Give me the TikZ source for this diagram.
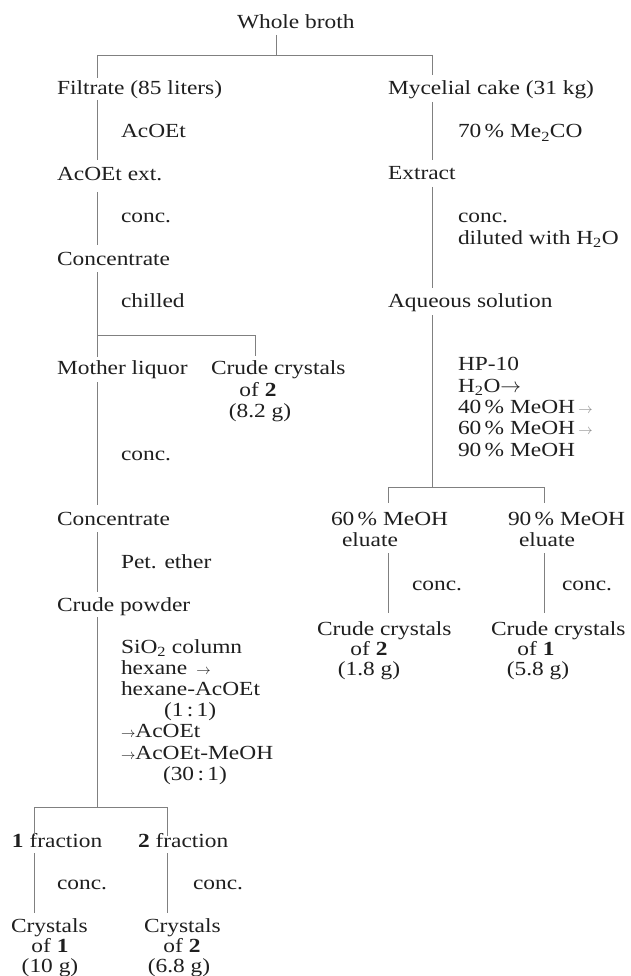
\documentclass[tikz,border=0pt]{standalone}
\usepackage{fontspec}
\setmainfont[FakeStretch=1.17]{Liberation Serif}
\begin{document}
\begin{tikzpicture}[x=1pt,y=-1pt,
  lbl/.style={inner sep=0pt, outer sep=0pt, anchor=base west,
    text height=14pt, text depth=4pt,
    font=\fontsize{20}{21}\selectfont, text=black!88},
  lblc/.style={lbl, anchor=base},
  link/.style={draw=black!50, line width=0.7pt}]
\fill[white] (0,0) rectangle (630,976);
\useasboundingbox (0,0) rectangle (630,976);
\newcommand{\sarr}{{\fontsize{15}{15}\selectfont$\rightarrow$}}
\newcommand{\garr}{{\color{black!45}\,$\scriptstyle\rightarrow$}}
% column and junction coordinates
\coordinate (cL) at (97,0);
\coordinate (cR) at (432,0);
\coordinate (cM) at (276,0);
\coordinate (cC) at (255,0);
\coordinate (cE1) at (388,0);
\coordinate (cE2) at (544,0);
\coordinate (cF1) at (34,0);
\coordinate (cF2) at (167,0);
\coordinate (jTop) at (276,55);
\coordinate (jChill) at (97,335);
\coordinate (jHP) at (432,487);
\coordinate (jSi) at (97,807);
% ---------- nodes ----------
\node[lbl] (broth) at (237,29) {Whole broth};
% left column
\node[lbl] (filtrate) at (57,95) {Filtrate (85 liters)};
\node[lbl] (r1) at (121,138) {AcOEt};
\node[lbl] (acoetext) at (57,181) {AcOEt ext.};
\node[lbl] (r2) at (121,223) {conc.};
\node[lbl] (concA) at (57,265) {Concentrate};
\node[lbl] (r3) at (121,307) {chilled};
\node[lbl] (mother) at (57,374) {Mother liquor};
\node[lbl] (crude2) at (211,374) {Crude crystals};
\node[lblc] (crude2b) at (258,396) {of \textbf{2}};
\node[lblc] (crude2c) at (260,417) {(8.2 g)};
\node[lbl] (r4) at (121,460) {conc.};
\node[lbl] (concB) at (57,525) {Concentrate};
\node[lbl] (r5) at (121,568) {Pet. ether};
\node[lbl] (powder) at (57,611) {Crude powder};
\node[lbl] (s1) at (121,653) {SiO\textsubscript{2} column};
\node[lbl] (s2) at (121,674) {hexane \,\sarr};
\node[lbl] (s3) at (121,695) {hexane-AcOEt};
\node[lbl] (s4) at (164,716) {(1\,:\,1)};
\node[lbl] (s5) at (121,737) {\sarr AcOEt};
\node[lbl] (s6) at (121,759) {\sarr AcOEt-MeOH};
\node[lbl] (s7) at (163,780) {(30\,:\,1)};
\node[lbl] (frac1) at (12,847) {\textbf{1} fraction};
\node[lbl] (frac2) at (138,847) {\textbf{2} fraction};
\node[lbl] (r6) at (57,889) {conc.};
\node[lbl] (r7) at (193,889) {conc.};
\node[lbl] (cryst1) at (11,932) {Crystals};
\node[lblc] (cryst1b) at (50,952) {of \textbf{1}};
\node[lblc] (cryst1c) at (50,972) {(10 g)};
\node[lbl] (cryst2) at (144,932) {Crystals};
\node[lblc] (cryst2b) at (182,952) {of \textbf{2}};
\node[lblc] (cryst2c) at (179,972) {(6.8 g)};
% right column
\node[lbl] (mycelial) at (388,95) {Mycelial cake (31 kg)};
\node[lbl] (q1) at (458,138) {70\thinspace\% Me\textsubscript{2}CO};
\node[lbl] (extract) at (388,180) {Extract};
\node[lbl] (q2) at (458,223) {conc.};
\node[lbl] (q3) at (458,244) {diluted with H\textsubscript{2}O};
\node[lbl] (aqueous) at (388,307) {Aqueous solution};
\node[lbl] (h1) at (458,370) {HP-10};
\node[lbl] (h2) at (458,392) {H\textsubscript{2}O$\rightarrow$};
\node[lbl] (h3) at (458,413) {40\thinspace\% MeOH\garr};
\node[lbl] (h4) at (458,434) {60\thinspace\% MeOH\garr};
\node[lbl] (h5) at (458,456) {90\thinspace\% MeOH};
\node[lbl] (eluA) at (331,525) {60\thinspace\% MeOH};
\node[lblc] (eluAb) at (370,546) {eluate};
\node[lbl] (eluB) at (508,525) {90\thinspace\% MeOH};
\node[lblc] (eluBb) at (547,546) {eluate};
\node[lbl] (q4) at (412,590) {conc.};
\node[lbl] (q5) at (562,590) {conc.};
\node[lbl] (crA) at (317,635) {Crude crystals};
\node[lblc] (crAb) at (369,655) {of \textbf{2}};
\node[lblc] (crAc) at (369,675) {(1.8 g)};
\node[lbl] (crB) at (491,635) {Crude crystals};
\node[lblc] (crBb) at (536,655) {of \textbf{1}};
\node[lblc] (crBc) at (538,675) {(5.8 g)};
% ---------- connectors ----------
\draw[link] ([yshift=-6pt]broth.base -| cM) -- (jTop);
\draw[link] (jTop -| cL) -- (jTop -| cR);
\draw[link] (jTop -| cL) -- ([yshift=17pt]filtrate.base -| cL);
\draw[link] (jTop -| cR) -- ([yshift=20pt]mycelial.base -| cR);
% left trunk
\draw[link] ([yshift=-5pt]filtrate.base -| cL) -- ([yshift=21pt]acoetext.base -| cL);
\draw[link] ([yshift=-11pt]acoetext.base -| cL) -- ([yshift=20pt]concA.base -| cL);
\draw[link] ([yshift=-7pt]concA.base -| cL) -- ([yshift=17pt]mother.base -| cL);
\draw[link] (jChill) -- (jChill -| cC) -- ([yshift=18pt]crude2.base -| cC);
\draw[link] ([yshift=-8pt]mother.base -| cL) -- ([yshift=20pt]concB.base -| cL);
\draw[link] ([yshift=-7pt]concB.base -| cL) -- ([yshift=19pt]powder.base -| cL);
\draw[link] ([yshift=-6pt]powder.base -| cL) -- (jSi);
\draw[link] (jSi -| cF1) -- (jSi -| cF2);
\draw[link] (jSi -| cF1) -- ([yshift=11pt]frac1.base -| cF1);
\draw[link] (jSi -| cF2) -- ([yshift=11pt]frac2.base -| cF2);
\draw[link] ([yshift=-6pt]frac1.base -| cF1) -- ([yshift=19pt]cryst1.base -| cF1);
\draw[link] ([yshift=-6pt]frac2.base -| cF2) -- ([yshift=19pt]cryst2.base -| cF2);
% right trunk
\draw[link] ([yshift=-7pt]mycelial.base -| cR) -- ([yshift=20pt]extract.base -| cR);
\draw[link] ([yshift=-7pt]extract.base -| cR) -- ([yshift=19pt]aqueous.base -| cR);
\draw[link] ([yshift=-8pt]aqueous.base -| cR) -- (jHP);
\draw[link] (jHP -| cE1) -- (jHP -| cE2);
\draw[link] (jHP -| cE1) -- ([yshift=22pt]eluA.base -| cE1);
\draw[link] (jHP -| cE2) -- ([yshift=22pt]eluB.base -| cE2);
\draw[link] ([yshift=-7pt]eluAb.base -| cE1) -- ([yshift=22pt]crA.base -| cE1);
\draw[link] ([yshift=-7pt]eluBb.base -| cE2) -- ([yshift=22pt]crB.base -| cE2);
\end{tikzpicture}
\end{document}
